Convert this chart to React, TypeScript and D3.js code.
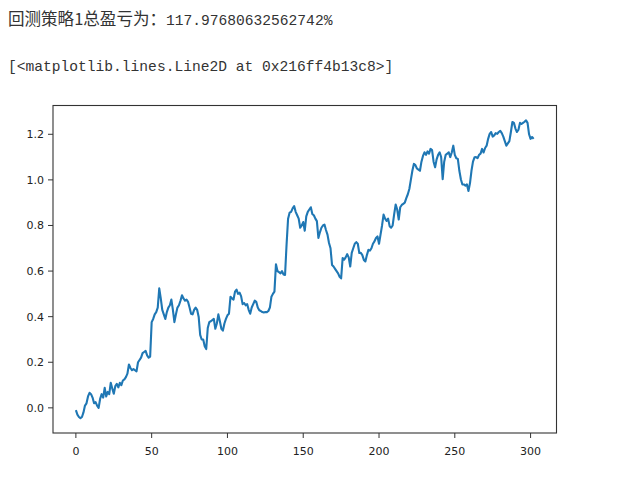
import React from "react";
import * as d3 from "d3";

const titleCn = "回测策略1总盈亏为：";
const titleNum = "117.97680632562742%";
const reprLine = "[<matplotlib.lines.Line2D at 0x216ff4b13c8>]";

const xTicks = [0, 50, 100, 150, 200, 250, 300];
const yTicks = [0.0, 0.2, 0.4, 0.6, 0.8, 1.0, 1.2];

const equity: number[] = [
  -0.01, -0.03, -0.04, -0.045, -0.04, -0.02, 0.01, 0.02, 0.05, 0.066,
  0.06, 0.045, 0.02, 0.025, 0.01, 0.0, 0.04, 0.06, 0.045, 0.088,
  0.05, 0.07, 0.06, 0.11, 0.085, 0.062, 0.095, 0.105, 0.09, 0.11,
  0.1, 0.12, 0.125, 0.135, 0.15, 0.19, 0.175, 0.165, 0.17, 0.165,
  0.16, 0.2, 0.21, 0.22, 0.24, 0.245, 0.25, 0.23, 0.22, 0.225,
  0.376, 0.39, 0.41, 0.42, 0.44, 0.524, 0.48, 0.43, 0.41, 0.39,
  0.42, 0.44, 0.45, 0.475, 0.43, 0.376, 0.41, 0.44, 0.45, 0.47,
  0.494, 0.48, 0.47, 0.475, 0.465, 0.44, 0.413, 0.41, 0.43, 0.44,
  0.43, 0.4, 0.32, 0.3, 0.3, 0.27, 0.258, 0.35, 0.376, 0.38,
  0.385, 0.39, 0.347, 0.37, 0.41, 0.38, 0.347, 0.339, 0.37, 0.39,
  0.406, 0.413, 0.487, 0.48, 0.475, 0.51, 0.519, 0.5, 0.505, 0.49,
  0.455, 0.46, 0.45, 0.455, 0.43, 0.413, 0.44, 0.455, 0.47, 0.465,
  0.44, 0.428, 0.425, 0.42, 0.418, 0.42, 0.42, 0.425, 0.44, 0.487,
  0.5, 0.51, 0.63, 0.6, 0.595, 0.59, 0.6, 0.585, 0.583, 0.716,
  0.83, 0.856, 0.86, 0.875, 0.885, 0.86, 0.845, 0.83, 0.79, 0.8,
  0.815, 0.777, 0.84, 0.86, 0.87, 0.88, 0.85, 0.845, 0.83, 0.819,
  0.745, 0.77, 0.79, 0.8, 0.804, 0.78, 0.76, 0.723, 0.7, 0.627,
  0.62, 0.61, 0.6, 0.59, 0.575, 0.568, 0.657, 0.65, 0.66, 0.674,
  0.66, 0.62, 0.68, 0.7, 0.72, 0.727, 0.72, 0.679, 0.68, 0.67,
  0.649, 0.642, 0.67, 0.693, 0.69, 0.7, 0.72, 0.73, 0.745, 0.752,
  0.72, 0.76, 0.8, 0.848, 0.83, 0.82, 0.83, 0.797, 0.79, 0.8,
  0.85, 0.892, 0.87, 0.826, 0.88, 0.89, 0.895, 0.9, 0.92, 0.937,
  0.96, 1.0, 1.04, 1.07, 1.065, 1.05, 1.045, 1.04, 1.08, 1.105,
  1.121, 1.11, 1.125, 1.115, 1.136, 1.131, 1.08, 1.055, 1.09, 1.11,
  1.121, 1.1, 1.003, 1.08, 1.11, 1.115, 1.121, 1.1, 1.12, 1.15,
  1.11, 1.095, 1.092, 1.04, 1.003, 0.98, 0.98, 0.975, 0.98, 0.951,
  0.985, 1.04, 1.08, 1.099, 1.1, 1.095, 1.11, 1.115, 1.136, 1.12,
  1.14, 1.15, 1.18, 1.202, 1.21, 1.19, 1.195, 1.205, 1.202, 1.21,
  1.215, 1.205, 1.19, 1.17, 1.15, 1.16, 1.17, 1.21, 1.254, 1.25,
  1.225, 1.21, 1.22, 1.25, 1.245, 1.25, 1.255, 1.261, 1.25, 1.2,
  1.18, 1.188, 1.18,
];

export default function App() {
  const W = 617, H = 481;
  const left = 53, right = 556.5, top = 105.5, bottom = 433;
  const n = equity.length;
  const xPad = (n - 1) * 0.05;
  const x = d3.scaleLinear().domain([-xPad, n - 1 + xPad]).range([left, right]);
  const [ymin, ymax] = d3.extent(equity) as [number, number];
  const yPad = (ymax - ymin) * 0.05;
  const y = d3.scaleLinear().domain([ymin - yPad, ymax + yPad]).range([bottom, top]);
  const line = d3.line<number>().x((_, i) => x(i)).y((d) => y(d));
  const mono = "'Liberation Mono', 'DejaVu Sans Mono', monospace";
  const cjk = "'Noto Sans CJK SC', sans-serif";
  const tickFont = "'DejaVu Sans', sans-serif";

  return (
    <svg width={W} height={H} style={{ position: "absolute", left: 0, top: 0, background: "#fff" }}>
      <text x={8} y={25} fill="#333">
        <tspan fontFamily={cjk} fontSize={16.5} textLength={158} lengthAdjust="spacingAndGlyphs">{titleCn}</tspan>
        <tspan fontFamily={mono} fontSize={14.6}>{titleNum}</tspan>
      </text>
      <text x={8} y={71} fill="#333" fontFamily={mono} fontSize={14.6}>{reprLine}</text>

      <path d={line(equity) || ""} fill="none" stroke="#1f77b4" strokeWidth={2.1} strokeLinejoin="round" />

      <rect x={left} y={top} width={right - left} height={bottom - top} fill="none" stroke="#333" strokeWidth={1.1} />

      {xTicks.map((t) => (
        <g key={"x" + t}>
          <line x1={x(t)} x2={x(t)} y1={bottom} y2={bottom + 5} stroke="#333" />
          <text x={x(t)} y={bottom + 22} textAnchor="middle" fontFamily={tickFont} fontSize={11} fill="#222">{t}</text>
        </g>
      ))}
      {yTicks.map((t) => (
        <g key={"y" + t}>
          <line x1={left - 5} x2={left} y1={y(t)} y2={y(t)} stroke="#333" />
          <text x={left - 9} y={y(t) + 4} textAnchor="end" fontFamily={tickFont} fontSize={11} fill="#222">{t.toFixed(1)}</text>
        </g>
      ))}
    </svg>
  );
}
